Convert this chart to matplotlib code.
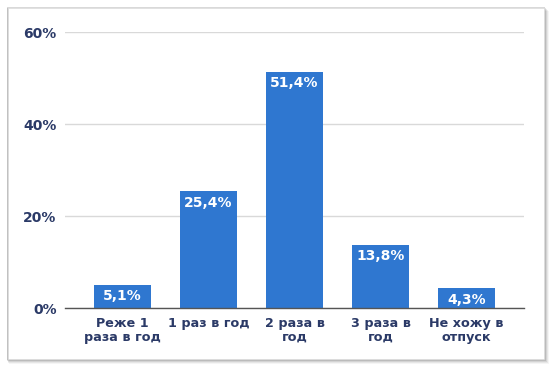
import matplotlib
matplotlib.use("Agg")
import matplotlib.pyplot as plt
from matplotlib.patches import Rectangle

categories = ["Реже 1\nраза в год", "1 раз в год", "2 раза в\nгод", "3 раза в\nгод", "Не хожу в\nотпуск"]
values = [5.1, 25.4, 51.4, 13.8, 4.3]
value_labels = ["5,1%", "25,4%", "51,4%", "13,8%", "4,3%"]
yticks = [0, 20, 40, 60]
ytick_labels = ["0%", "20%", "40%", "60%"]

W, H = 554, 372
fig = plt.figure(figsize=(W / 100, H / 100), dpi=100)
fig.patch.set_facecolor("white")
plt.rcParams['font.family'] = ['DejaVu Sans']

# card with shadow
cx0, cy0, cx1, cy1 = 8, 8, 544, 359
for i, a in enumerate([0.04, 0.06, 0.08, 0.11, 0.15]):
    off = 5 - i
    fig.patches.append(Rectangle(((cx0 - 2 + off * 0.5) / W, (H - cy1 - off) / H),
                                 (cx1 - cx0 + 2 + off * 0.5) / W, (cy1 - cy0 + 2) / H,
                                 transform=fig.transFigure, facecolor="black", alpha=a,
                                 edgecolor="none", zorder=0))
fig.patches.append(Rectangle((cx0 / W, (H - cy1) / H), (cx1 - cx0) / W, (cy1 - cy0) / H,
                             transform=fig.transFigure, facecolor="white", edgecolor="#e2e2e2",
                             linewidth=0.5, zorder=1))

ax = fig.add_axes([65 / W, (H - 308) / H, (524 - 65) / W, (308 - 32) / H])
ax.set_facecolor("none")
ax.set_zorder(2)
navy = "#2b3a67"
x = list(range(len(categories)))
bars = ax.bar(x, values, width=0.66, color="#2f77d0", zorder=3)
for xi, v, lab in zip(x, values, value_labels):
    ax.annotate(lab, (xi, v), xytext=(0, -3.5), textcoords="offset points",
                ha="center", va="top", color="white", fontsize=10, fontweight="bold", zorder=4)

ax.set_xlim(-0.67, 4.67)
ax.set_ylim(0, 60)
ax.set_yticks(yticks)
ax.set_yticklabels(ytick_labels)
ax.set_xticks(x)
ax.set_xticklabels(categories)
for t in ax.get_yticklabels():
    t.set_color(navy)
    t.set_fontweight("bold")
    t.set_fontsize(10)
for t in ax.get_xticklabels():
    t.set_color(navy)
    t.set_fontweight("bold")
    t.set_fontsize(9.2)
    t.set_linespacing(1.1)
ax.tick_params(axis="both", length=0)
ax.tick_params(axis="y", pad=6)
ax.tick_params(axis="x", pad=6.5)
ax.grid(axis="y", color="#d9d9d9", linewidth=1, zorder=0)
for s in ["top", "right", "left"]:
    ax.spines[s].set_visible(False)
ax.spines["bottom"].set_color("#555555")
ax.spines["bottom"].set_linewidth(1)
ax.spines["bottom"].set_zorder(5)

fig.savefig("out.png", dpi=100, facecolor="white")
